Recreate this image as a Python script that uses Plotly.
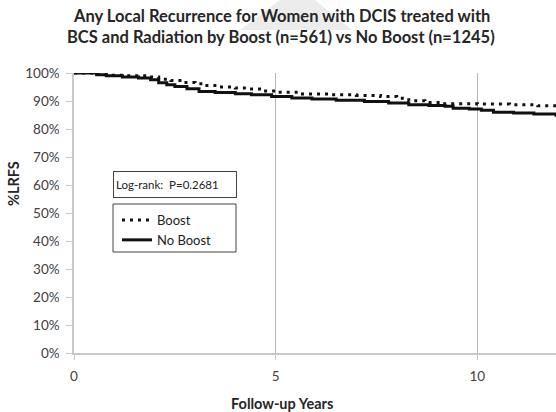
import plotly.graph_objects as go

# ---- data ----
boost_t = [0, 0.6, 0.9, 1.3, 1.8, 2.1, 2.4, 2.7, 3.0, 3.2, 3.6, 4.0, 4.3, 4.7, 5.0, 5.6,
           6.3, 7.0, 7.6, 8.0, 8.3, 8.7, 9.1, 9.5, 10.0, 10.8, 11.5, 11.95]
boost_s = [100, 99.5, 99.2, 99.0, 98.6, 97.8, 97.3, 96.6, 96.2, 95.5, 95.0, 94.6, 94.3, 93.6,
           93.1, 92.5, 92.2, 92.0, 91.6, 91.0, 90.1, 89.5, 89.0, 89.0, 88.9, 88.7, 88.3, 88.2]

noboost_t = [0, 0.56, 0.8, 1.2, 1.6, 1.9, 2.1, 2.3, 2.5, 2.8, 3.1, 3.5, 4.0, 4.4, 4.9, 5.4,
             5.9, 6.5, 7.2, 7.8, 8.3, 8.8, 9.2, 9.4, 9.8, 10.1, 10.4, 10.9, 11.4, 11.95]
noboost_s = [100, 99.4, 99.0, 98.6, 98.2, 97.6, 96.5, 95.8, 95.2, 94.4, 93.4, 93.0, 92.6, 92.2,
             91.6, 91.1, 90.7, 90.3, 89.8, 89.3, 88.7, 88.4, 88.1, 87.4, 87.1, 86.7, 86.0, 85.7,
             85.4, 84.4]

title_lines = ["Any Local Recurrence for Women with DCIS treated with",
               "BCS and Radiation by Boost (n=561) vs No Boost (n=1245)"]
x_title = "Follow-up Years"
y_title = "%LRFS"
logrank_text = "Log-rank:  P=0.2681"
x_ticks = [0, 5, 10]
y_ticks = [0, 10, 20, 30, 40, 50, 60, 70, 80, 90, 100]

W, H = 556, 412
L, R, T, B = 74, 0, 73, 59
FONT = "Lato"
TICKC = "#404040"

fig = go.Figure()
fig.add_trace(go.Scatter(x=boost_t, y=boost_s, mode="lines", name="Boost",
                         line=dict(color="#111111", width=3, dash="3px,5px", shape="hv")))
fig.add_trace(go.Scatter(x=noboost_t, y=noboost_s, mode="lines", name="No Boost",
                         line=dict(color="#111111", width=3, shape="hv")))

pw = W - L - R
ph = H - T - B

def px_x(p):
    return (p - L) / pw

def px_y(p):
    return (H - B - p) / ph

title_font = dict(family=FONT, size=16.5, color="#262626")

fig.update_layout(
    width=W, height=H,
    margin=dict(l=L, r=R, t=T, b=B),
    paper_bgcolor="white", plot_bgcolor="white",
    font=dict(family=FONT, color=TICKC, size=13),
    showlegend=True,
    legend=dict(x=px_x(117), y=px_y(205), xanchor="left", yanchor="top",
                bgcolor="rgba(0,0,0,0)", borderwidth=0,
                font=dict(family=FONT, size=13, color="#222222"),
                itemwidth=30, tracegroupgap=0),
    xaxis=dict(range=[0, 11.95], tickvals=x_ticks, ticktext=[str(v) for v in x_ticks],
               showgrid=True, gridcolor="#b5b5b5", gridwidth=1,
               showline=True, linecolor="#c8c8c8", linewidth=1.5,
               ticks="outside", ticklen=5, tickcolor="#c8c8c8", ticklabelstandoff=5,
               zeroline=False, tickfont=dict(family=FONT, size=13.5, color=TICKC)),
    yaxis=dict(range=[0, 100], tickvals=y_ticks, ticktext=[f"{v}%" for v in y_ticks],
               showgrid=False, showline=True, linecolor="#c8c8c8", linewidth=1.5,
               ticks="outside", ticklen=6, tickcolor="#c8c8c8", zeroline=False,
               ticklabelstandoff=4,
               tickfont=dict(family=FONT, size=13.5, color=TICKC)),
    shapes=[
        dict(type="path", xref="paper", yref="paper", layer="below",
             path=f"M {(240-L)/pw},{(H-30-B)/ph} L {(280-L)/pw},{(H-B)/ph + 0.0} "
                  f"L {(315-L)/pw},{(H-B)/ph} L {(352-L)/pw},{(H-30-B)/ph} Z",
             fillcolor="#ececec", line=dict(width=0)),
        dict(type="rect", xref="paper", yref="paper",
             x0=px_x(113), x1=px_x(236), y0=px_y(252), y1=px_y(204),
             line=dict(color="#444444", width=1), fillcolor="rgba(0,0,0,0)"),
    ],
    annotations=[
        dict(text="<b>" + title_lines[0] + "</b>", xref="paper", yref="paper",
             x=px_x(281), y=px_y(16), xanchor="center", yanchor="middle",
             showarrow=False, font=title_font),
        dict(text="<b>" + title_lines[1] + "</b>", xref="paper", yref="paper",
             x=px_x(281), y=px_y(37), xanchor="center", yanchor="middle",
             showarrow=False, font=title_font),
        dict(text=logrank_text, xref="paper", yref="paper",
             x=px_x(113), y=px_y(171), xanchor="left", yanchor="top",
             showarrow=False, align="left", width=118, height=21,
             bordercolor="#444444", borderwidth=1, borderpad=2,
             font=dict(family=FONT, size=11.5, color="#222222")),
        dict(text="<b>" + x_title + "</b>", xref="paper", yref="paper",
             x=px_x(282), y=px_y(403), xanchor="center", yanchor="middle",
             showarrow=False, font=dict(family=FONT, size=14.5, color="#262626")),
        dict(text="<b>" + y_title + "</b>", xref="paper", yref="paper",
             x=px_x(13), y=px_y(184), xanchor="center", yanchor="middle",
             textangle=-90, showarrow=False,
             font=dict(family=FONT, size=14.5, color="#262626")),
    ],
)

fig.write_html("out.html", config={"displayModeBar": False},
               post_script="document.body.style.margin='0';document.body.style.overflow='hidden';")
